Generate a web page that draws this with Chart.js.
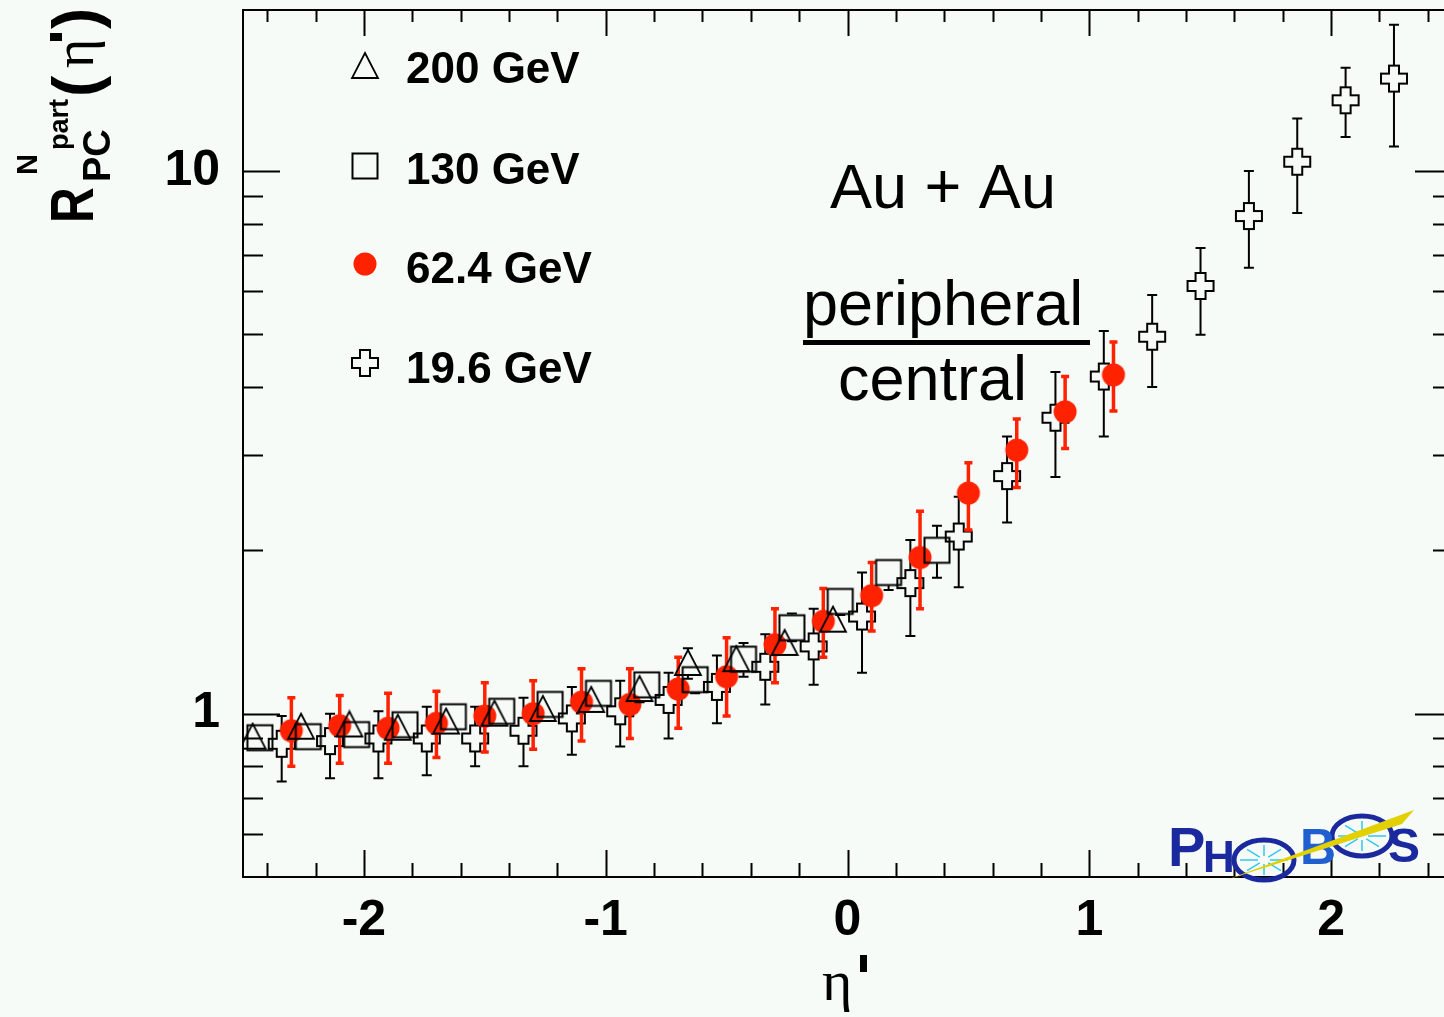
<!DOCTYPE html>
<html>
<head>
<meta charset="utf-8">
<script src="https://cdn.jsdelivr.net/npm/chart.js@4.4.1/dist/chart.umd.min.js"></script>
<style>
  html, body { margin: 0; padding: 0; background: #f7fbf8; overflow: hidden; }
  #wrap { width: 1460px; height: 1017px; position: relative; }
</style>
</head>
<body>
<div id="wrap"><canvas id="chart"></canvas></div>
<script>
// tick labels
const xTickValues = [-2, -1, 0, 1, 2];
const yTickValues = [1, 10];

// 200 GeV (open triangles)
const eta200 = [-0.06, -0.26, -0.46, -0.66, -0.86, -1.06, -1.26, -1.46, -1.66, -1.86, -2.06, -2.26, -2.46];
const r200 = [1.49, 1.35, 1.26, 1.24, 1.11, 1.06, 1.02, 1.00, 0.967, 0.942, 0.955, 0.946, 0.907];
const hi200 = [1.56, 1.42, 1.32, 1.32, 1.17, 1.11, 1.07, 1.05, 1.01, 0.99, 1.00, 0.99, 0.95];
const lo200 = [1.42, 1.28, 1.20, 1.16, 1.05, 1.01, 0.97, 0.95, 0.92, 0.90, 0.91, 0.90, 0.87];

// 130 GeV (open squares)
const eta130 = [0.37, 0.17, -0.03, -0.23, -0.43, -0.63, -0.83, -1.03, -1.23, -1.43, -1.63, -1.83, -2.03, -2.23, -2.43];
const r130 = [2.00, 1.82, 1.61, 1.44, 1.26, 1.155, 1.13, 1.09, 1.04, 1.01, 0.987, 0.954, 0.915, 0.907, 0.903];
const hi130 = [2.22, 1.90, 1.70, 1.53, 1.35, 1.22, 1.19, 1.14, 1.09, 1.06, 1.03, 1.00, 0.96, 0.95, 0.95];
const lo130 = [1.78, 1.69, 1.52, 1.36, 1.17, 1.09, 1.07, 1.04, 0.99, 0.96, 0.94, 0.91, 0.87, 0.86, 0.86];

// 62.4 GeV (red filled circles)
const eta62 = [1.1, 0.9, 0.7, 0.5, 0.3, 0.1, -0.1, -0.3, -0.5, -0.7, -0.9, -1.1, -1.3, -1.5, -1.7, -1.9, -2.1, -2.3];
const r62 = [4.21, 3.60, 3.06, 2.55, 1.94, 1.65, 1.48, 1.34, 1.17, 1.11, 1.04, 1.05, 1.00, 0.99, 0.96, 0.94, 0.95, 0.93];
const hi62 = [4.84, 4.18, 3.49, 2.90, 2.36, 1.90, 1.70, 1.56, 1.38, 1.27, 1.21, 1.21, 1.15, 1.14, 1.10, 1.09, 1.08, 1.07];
const lo62 = [3.61, 3.08, 2.61, 2.18, 1.56, 1.42, 1.27, 1.14, 0.99, 0.94, 0.90, 0.89, 0.86, 0.85, 0.83, 0.81, 0.81, 0.80];

// 19.6 GeV (open crosses)
const eta19 = [2.26, 2.06, 1.86, 1.66, 1.46, 1.26, 1.06, 0.86, 0.66, 0.46, 0.26, 0.06, -0.14, -0.34, -0.54, -0.74, -0.94, -1.14, -1.34, -1.54, -1.74, -1.94, -2.14, -2.34];
const r19 = [14.8, 13.5, 10.4, 8.26, 6.14, 4.95, 4.18, 3.51, 2.74, 2.12, 1.74, 1.51, 1.33, 1.22, 1.12, 1.06, 1.01, 0.98, 0.93, 0.90, 0.90, 0.90, 0.89, 0.88];
const hi19 = [18.6, 15.5, 12.5, 10.0, 7.21, 5.91, 5.07, 4.26, 3.24, 2.51, 2.09, 1.82, 1.56, 1.40, 1.28, 1.19, 1.15, 1.12, 1.07, 1.03, 1.03, 1.01, 1.00, 0.99];
const lo19 = [11.1, 11.55, 8.37, 6.63, 4.99, 4.00, 3.24, 2.73, 2.25, 1.71, 1.39, 1.19, 1.13, 1.04, 0.96, 0.90, 0.87, 0.84, 0.80, 0.80, 0.77, 0.76, 0.76, 0.75];

const BG = '#f7fbf8';
const RED = '#ff2200';
const SANS = "'Liberation Sans', Arial, Helvetica, sans-serif";
const SERIF = "'Liberation Serif', 'DejaVu Serif', serif";

function markerCanvas(size, draw) {
  const c = document.createElement('canvas');
  c.width = size;
  c.height = size;
  draw(c.getContext('2d'), size / 2);
  return c;
}

const triangleImg = markerCanvas(30, (g, m) => {
  g.beginPath();
  g.moveTo(m, m - 13);
  g.lineTo(m + 13, m + 12);
  g.lineTo(m - 13, m + 12);
  g.closePath();
  g.lineWidth = 1.8;
  g.strokeStyle = '#000';
  g.stroke();
});

const squareImg = markerCanvas(30, (g, m) => {
  g.lineWidth = 2;
  g.strokeStyle = '#000';
  g.strokeRect(m - 12.5, m - 12.5, 25, 25);
});

const circleImg = markerCanvas(26, (g, m) => {
  g.beginPath();
  g.arc(m, m, 11.5, 0, Math.PI * 2);
  g.fillStyle = RED;
  g.fill();
});

const crossImg = markerCanvas(30, (g, m) => {
  const a = 5, b = 13;
  g.beginPath();
  g.moveTo(m - a, m - b); g.lineTo(m + a, m - b); g.lineTo(m + a, m - a);
  g.lineTo(m + b, m - a); g.lineTo(m + b, m + a); g.lineTo(m + a, m + a);
  g.lineTo(m + a, m + b); g.lineTo(m - a, m + b); g.lineTo(m - a, m + a);
  g.lineTo(m - b, m + a); g.lineTo(m - b, m - a); g.lineTo(m - a, m - a);
  g.closePath();
  g.fillStyle = BG;
  g.fill();
  g.lineWidth = 2;
  g.strokeStyle = '#000';
  g.stroke();
});

function toPoints(xs, ys) {
  return xs.map((x, i) => ({ x, y: ys[i] }));
}

// ROOT-like error bars: drawn just before each dataset, with a gap at the marker
const errorBars = {
  id: 'errorBars',
  beforeDatasetDraw(chart, args) {
    const ds = chart.data.datasets[args.index];
    if (!ds.errHi) return;
    const { ctx, scales: { x, y } } = chart;
    ctx.save();
    ctx.strokeStyle = ds.errColor;
    ctx.lineWidth = ds.errWidth;
    ds.data.forEach((p, i) => {
      const px = x.getPixelForValue(p.x);
      const py = y.getPixelForValue(p.y);
      const top = y.getPixelForValue(ds.errHi[i]);
      const bot = y.getPixelForValue(ds.errLo[i]);
      ctx.beginPath();
      if (top < py - ds.gap) {
        ctx.moveTo(px, py - ds.gap);
        ctx.lineTo(px, top);
        ctx.moveTo(px - ds.cap, top);
        ctx.lineTo(px + ds.cap, top);
      }
      if (bot > py + ds.gap) {
        ctx.moveTo(px, py + ds.gap);
        ctx.lineTo(px, bot);
        ctx.moveTo(px - ds.cap, bot);
        ctx.lineTo(px + ds.cap, bot);
      }
      ctx.stroke();
    });
    ctx.restore();
  },
};

// frame with ROOT style inward ticks on all four sides
const frame = {
  id: 'frame',
  beforeDatasetsDraw(chart) {
    const { ctx, chartArea: a, scales: { x, y } } = chart;
    ctx.save();
    ctx.strokeStyle = '#000';
    ctx.lineWidth = 2;
    ctx.strokeRect(a.left, a.top, a.right - a.left, a.bottom - a.top);
    ctx.beginPath();
    for (let k = -12; k <= 12; k++) {
      const v = k / 5;
      const px = Math.round(x.getPixelForValue(v)) + 0.5;
      const major = k % 5 === 0;
      ctx.moveTo(px, a.bottom);
      ctx.lineTo(px, a.bottom - (major ? 27 : 14));
      ctx.moveTo(px, a.top);
      ctx.lineTo(px, a.top + (major ? 26 : 12));
    }
    const yMinor = [0.6, 0.7, 0.8, 0.9, 2, 3, 4, 5, 6, 7, 8, 9];
    yMinor.concat(yTickValues).forEach(v => {
      const py = Math.round(y.getPixelForValue(v)) + 0.5;
      const major = yTickValues.includes(v);
      ctx.moveTo(a.left, py);
      ctx.lineTo(a.left + (major ? 37 : 20), py);
      ctx.moveTo(a.right, py);
      ctx.lineTo(a.right - (major ? 37 : 19), py);
    });
    ctx.stroke();
    ctx.restore();
  },
};

function drawYTitle(ctx) {
  ctx.save();
  ctx.translate(93, 223);
  ctx.rotate(-Math.PI / 2);
  ctx.fillStyle = '#000';
  ctx.textAlign = 'left';
  ctx.textBaseline = 'alphabetic';
  ctx.save();
  ctx.scale(0.8, 1);
  ctx.font = `bold 62px ${SANS}`;
  ctx.fillText('R', 0, 0);
  ctx.restore();
  ctx.font = `bold 38px ${SANS}`;
  ctx.fillText('PC', 41, 17);
  ctx.font = `bold 29px ${SANS}`;
  ctx.fillText('N', 48, -56);
  ctx.font = `bold 27px ${SANS}`;
  ctx.fillText('part', 73, -25);
  ctx.font = `bold 64px ${SANS}`;
  ctx.fillText('(', 126, 5);
  ctx.fillText(')', 194, 5);
  ctx.font = `56px ${SERIF}`;
  ctx.fillText('\u03b7', 155, 0);
  ctx.fillRect(182, -43, 8, 12);
  ctx.restore();
}

function drawLegend(ctx) {
  const rows = [
    [triangleImg, '200 GeV', 66, 83],
    [squareImg, '130 GeV', 166, 184],
    [circleImg, '62.4 GeV', 264, 283],
    [crossImg, '19.6 GeV', 363, 383],
  ];
  ctx.font = `bold 44px ${SANS}`;
  ctx.fillStyle = '#000';
  ctx.textAlign = 'left';
  ctx.textBaseline = 'alphabetic';
  rows.forEach(([img, label, cy, base]) => {
    ctx.drawImage(img, 365 - img.width / 2, cy - img.height / 2);
    ctx.fillText(label, 406, base);
  });
}

function drawNotes(ctx) {
  ctx.fillStyle = '#000';
  ctx.textAlign = 'left';
  ctx.textBaseline = 'alphabetic';
  ctx.font = `63px ${SANS}`;
  ctx.fillText('Au + Au', 830, 208);
  ctx.fillText('peripheral', 803, 325);
  ctx.fillText('central', 838, 400);
  ctx.fillRect(803, 340, 287, 5);
  // x axis title
  ctx.font = `58px ${SERIF}`;
  ctx.fillText('\u03b7', 822, 1000);
  ctx.fillRect(860, 955, 7, 17);
}

function drawLogo(ctx) {
  const blue = '#1a2a9e';
  ctx.save();
  ctx.fillStyle = blue;
  ctx.strokeStyle = blue;
  ctx.textBaseline = 'alphabetic';
  ctx.font = `bold 56px ${SANS}`;
  ctx.fillText('P', 1168, 866);
  ctx.font = `bold 44px ${SANS}`;
  ctx.fillText('H', 1203, 872);
  ctx.lineWidth = 5;
  ctx.beginPath();
  ctx.ellipse(1264, 860, 30, 20, 0, 0, Math.PI * 2);
  ctx.stroke();
  ctx.beginPath();
  ctx.ellipse(1362, 836, 30, 20, 0, 0, Math.PI * 2);
  ctx.stroke();
  ctx.strokeStyle = '#33c8ee';
  ctx.lineWidth = 1.5;
  [[1264, 860], [1362, 836]].forEach(([cx, cy]) => {
    ctx.beginPath();
    for (let k = 0; k < 8; k++) {
      const t = k * Math.PI / 4;
      ctx.moveTo(cx + Math.cos(t) * 6, cy + Math.sin(t) * 4);
      ctx.lineTo(cx + Math.cos(t) * 24, cy + Math.sin(t) * 15);
    }
    ctx.stroke();
  });
  ctx.font = `bold 50px ${SANS}`;
  ctx.fillStyle = '#1f5fd0';
  ctx.fillText('B', 1300, 864);
  ctx.fillStyle = blue;
  ctx.font = `bold 48px ${SANS}`;
  ctx.fillText('S', 1388, 862);
  ctx.fillStyle = '#e2d000';
  ctx.beginPath();
  ctx.moveTo(1210, 886);
  ctx.lineTo(1414, 810);
  ctx.lineTo(1402, 824);
  ctx.lineTo(1226, 880);
  ctx.closePath();
  ctx.fill();
  ctx.restore();
}

const annotations = {
  id: 'annotations',
  afterDraw(chart) {
    const ctx = chart.ctx;
    ctx.save();
    drawYTitle(ctx);
    drawLegend(ctx);
    drawNotes(ctx);
    drawLogo(ctx);
    ctx.restore();
  },
};

new Chart(document.getElementById('chart'), {
  type: 'scatter',
  data: {
    datasets: [
      {
        label: '200 GeV', data: toPoints(eta200, r200), order: 0,
        pointStyle: triangleImg, pointRadius: 13, pointHoverRadius: 13,
        errHi: hi200, errLo: lo200, errColor: '#000', errWidth: 2, cap: 5, gap: 13,
      },
      {
        label: '130 GeV', data: toPoints(eta130, r130), order: 1,
        pointStyle: squareImg, pointRadius: 13, pointHoverRadius: 13,
        errHi: hi130, errLo: lo130, errColor: '#000', errWidth: 2, cap: 5, gap: 13,
      },
      {
        label: '62.4 GeV', data: toPoints(eta62, r62), order: 2,
        pointStyle: circleImg, pointRadius: 12, pointHoverRadius: 12,
        errHi: hi62, errLo: lo62, errColor: RED, errWidth: 3.5, cap: 4, gap: 0,
      },
      {
        label: '19.6 GeV', data: toPoints(eta19, r19), order: 3,
        pointStyle: crossImg, pointRadius: 13, pointHoverRadius: 13,
        errHi: hi19, errLo: lo19, errColor: '#000', errWidth: 2, cap: 5, gap: 13,
      },
    ],
  },
  options: {
    responsive: true,
    maintainAspectRatio: false,
    animation: false,
    devicePixelRatio: 1,
    layout: { autoPadding: false, padding: { top: 10, right: 8, left: 0, bottom: 0 } },
    plugins: {
      legend: { display: false },
      tooltip: { enabled: false },
    },
    scales: {
      x: {
        type: 'linear',
        min: -2.5,
        max: 2.5,
        grid: { display: false, drawTicks: false },
        border: { display: false },
        afterBuildTicks: scale => { scale.ticks = xTickValues.map(value => ({ value })); },
        afterFit: scale => {
          scale.height = 140;
          scale.paddingLeft = 0;
          scale.paddingRight = 0;
        },
        ticks: {
          color: '#000',
          padding: 14,
          maxRotation: 0,
          autoSkip: false,
          font: { family: SANS, weight: 'bold', size: 50 },
          callback: value => String(value),
        },
      },
      y: {
        type: 'logarithmic',
        min: 0.5,
        max: 19.8,
        grid: { display: false, drawTicks: false },
        border: { display: false },
        afterBuildTicks: scale => { scale.ticks = yTickValues.map(value => ({ value })); },
        afterFit: scale => {
          scale.width = 243;
          scale.paddingTop = 0;
          scale.paddingBottom = 0;
        },
        ticks: {
          color: '#000',
          padding: 23,
          autoSkip: false,
          font: { family: SANS, weight: 'bold', size: 50 },
          callback: value => String(value),
        },
      },
    },
  },
  plugins: [errorBars, frame, annotations],
});
</script>
</body>
</html>
